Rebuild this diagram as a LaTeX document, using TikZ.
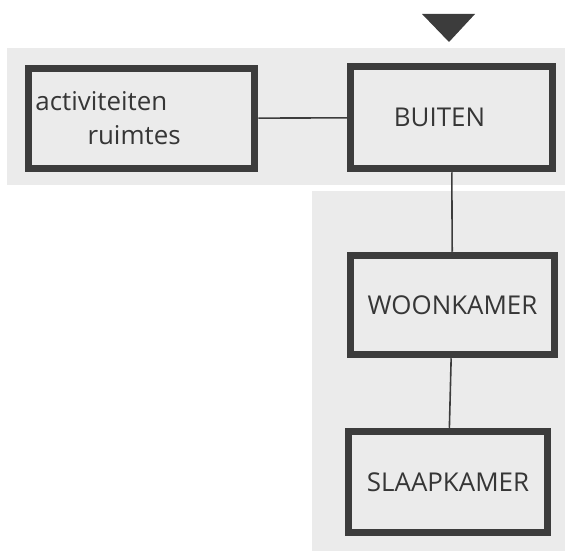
\documentclass[tikz,border=0pt]{standalone}
\usepackage{fontspec}
\setmainfont{Open Sans}
\definecolor{inkgrey}{HTML}{3C3C3C}
\definecolor{papergrey}{HTML}{EBEBEB}

\begin{document}
\begin{tikzpicture}[x=1bp, y=-1bp, Room/.style={rectangle, draw=inkgrey, fill=papergrey, line width=7.5bp, inner sep=0pt, minimum width=#1, font=\fontsize{26}{34}\selectfont, text=inkgrey!90!black}, Link/.style={draw=inkgrey, line width=1.6bp}]
        \useasboundingbox (0,0) rectangle (565,551);
        % grey paper
        \fill[papergrey] (7,48) rectangle (565,185);
        \fill[papergrey] (312,191) rectangle (565,551);
        % entrance
        \fill[inkgrey] (422,14) -- (475,14) -- (449,42) -- cycle;

        \node[Room=226bp, minimum height=100bp, text width=212bp, align=left] (A) at (141.5,118.5) {activiteiten\\\hspace*{52bp}ruimtes};
        \node[Room=202bp, minimum height=102bp] (B) at (451.5,117.5) {\hspace*{-24bp}BUITEN};
        \node[Room=204bp, minimum height=99bp] (W) at (452.5,305) {WOONKAMER};
        \node[Room=199bp, minimum height=101bp] (S) at (448,482) {SLAAPKAMER};

        \draw[Link] (A) -- (B);
        \draw[Link] (B) -- (W);
        \draw[Link] (W) -- (S);
    \end{tikzpicture}
\end{document}
